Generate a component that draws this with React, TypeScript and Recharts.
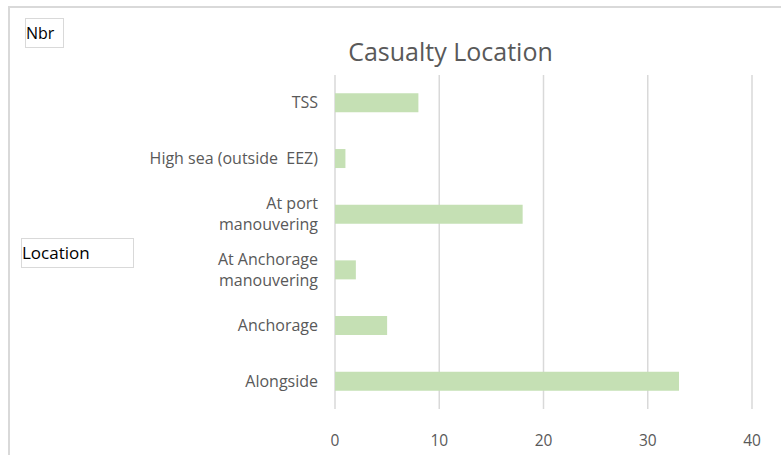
import { BarChart, Bar, XAxis, YAxis, CartesianGrid } from 'recharts';

const locations = [
  'TSS',
  'High sea (outside  EEZ)',
  'At port\nmanouvering',
  'At Anchorage\nmanouvering',
  'Anchorage',
  'Alongside',
];
const counts = [8, 1, 18, 2, 5, 33];
const xTicks = [0, 10, 20, 30, 40];

const data = locations.map((loc, i) => ({ loc, nbr: counts[i] }));

const font = '"Open Sans", "Noto Sans", sans-serif';

function LocTick(props: any) {
  const { x, y, payload } = props;
  const lines = String(payload.value).split('\n');
  const start = -((lines.length - 1) * 21) / 2;
  return (
    <text x={x - 9} y={y} textAnchor="end" fill="#595959" fontSize={16} fontFamily={font}>
      {lines.map((l, i) => (
        <tspan key={i} x={x - 9} y={y + start + i * 21} dy="0.35em" style={{ whiteSpace: 'pre' }}>
          {l}
        </tspan>
      ))}
    </text>
  );
}

function NbrTick(props: any) {
  const { x, y, payload } = props;
  return (
    <text x={x} y={y + 24} textAnchor="middle" dy="0.35em" fill="#595959" fontSize={15.5} fontFamily={font}>
      {payload.value}
    </text>
  );
}

export default function App() {
  return (
    <div style={{ position: 'absolute', left: 0, top: 0, width: 781, height: 455, overflow: 'hidden', background: '#fff' }}>
      <div style={{ position: 'absolute', left: 8, top: 6, width: 820, height: 520, border: '2px solid #D9D9D9', boxSizing: 'border-box' }} />
      <div style={{ position: 'absolute', left: 0, top: 34, width: 781, textAlign: 'center', paddingLeft: 120, boxSizing: 'border-box', fontFamily: font, fontSize: 25, color: '#595959' }}>
        Casualty Location
      </div>
      <div style={{ position: 'absolute', left: 25, top: 18, width: 39, height: 30, border: '1px solid #D9D9D9', boxSizing: 'border-box', fontFamily: font, fontSize: 16, color: '#000', lineHeight: '28px', paddingLeft: 0 }}>
        Nbr
      </div>
      <div style={{ position: 'absolute', left: 21, top: 238, width: 113, height: 30, border: '1px solid #D9D9D9', boxSizing: 'border-box', fontFamily: font, fontSize: 17, color: '#000', lineHeight: '28px', paddingLeft: 0 }}>
        Location
      </div>
      <div style={{ position: 'absolute', left: 0, top: 0 }}>
        <BarChart
          width={781}
          height={455}
          data={data}
          layout="vertical"
          margin={{ top: 75, right: 29, bottom: 16, left: 0 }}
          barCategoryGap="33%"
        >
          <CartesianGrid horizontal={false} stroke="#D9D9D9" strokeWidth={1.5} />
          <XAxis
            type="number"
            domain={[0, 40]}
            ticks={xTicks}
            axisLine={false}
            tickLine={false}
            height={30}
            tick={<NbrTick />}
          />
          <YAxis
            type="category"
            dataKey="loc"
            width={335}
            axisLine={false}
            tickLine={false}
            tick={<LocTick />}
            interval={0}
          />
          <Bar dataKey="nbr" fill="#C5E0B4" isAnimationActive={false} />
        </BarChart>
      </div>
    </div>
  );
}
